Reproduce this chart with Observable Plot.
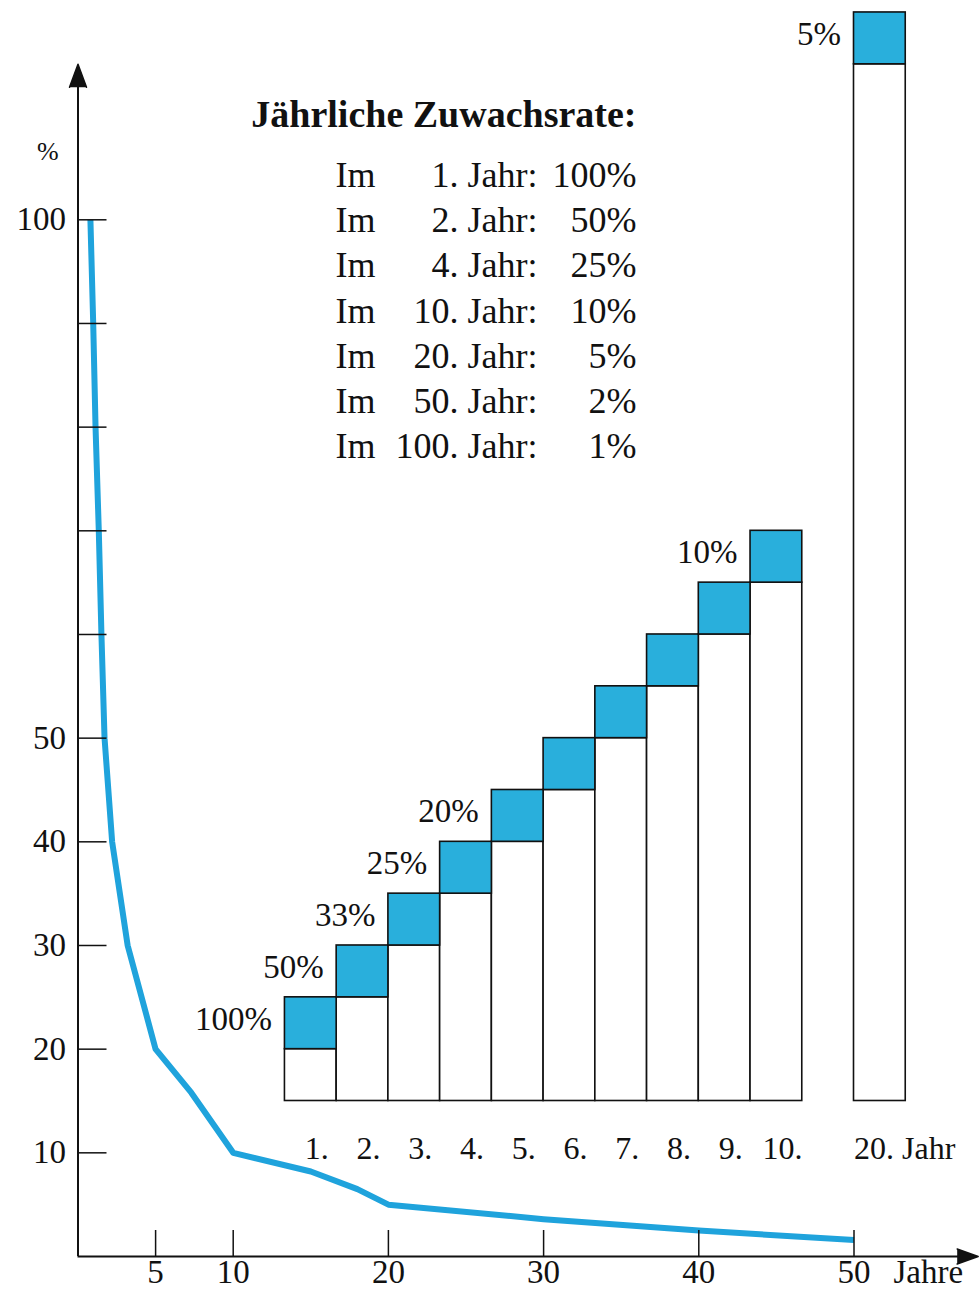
<!DOCTYPE html>
<html>
<head>
<meta charset="utf-8">
<script src="https://cdn.jsdelivr.net/npm/d3@7"></script>
<script src="https://cdn.jsdelivr.net/npm/@observablehq/plot@0.6"></script>
<style>
  html, body { margin: 0; padding: 0; background: #fff; }
  #chart svg { display: block; }
</style>
</head>
<body>
<div id="chart"></div>
<script>
// ---- Data ----
// Main curve: annual growth rate (%) against years
const curveYears = [0.8, 0.98, 1.13, 1.34, 1.51, 1.71, 2.2, 3.2, 5, 7.3, 10, 15, 18, 20, 30, 40, 50];
const curveRates = [100, 90, 80, 70, 60, 50, 40, 30, 20, 15.8, 10, 8.2, 6.5, 5, 3.6, 2.5, 1.6];

// Axis ticks
const yTickValues = [10, 20, 30, 40, 50, 60, 70, 80, 90, 100];
const yTickLabels = [10, 20, 30, 40, 50, 100];
const xTickValues = [5, 10, 20, 30, 40, 50];

// Inset staircase: capital at start of the year and its growth (in units)
const insetYears = [1, 2, 3, 4, 5, 6, 7, 8, 9, 10, 20];
const insetCapital = [1, 2, 3, 4, 5, 6, 7, 8, 9, 10, 20];
const insetGrowth = [1, 1, 1, 1, 1, 1, 1, 1, 1, 1, 1];
const insetRateLabels = ["100%", "50%", "33%", "25%", "20%", "", "", "", "", "10%", "5%"];
const insetYearLabels = ["1.", "2.", "3.", "4.", "5.", "6.", "7.", "8.", "9.", "10.", "20. Jahr"];

// Table
const tableTitle = "Jährliche Zuwachsrate:";
const tableYears = [1, 2, 4, 10, 20, 50, 100];
const tableRates = [100, 50, 25, 10, 5, 2, 1];

// ---- Layout / style constants ----
const W = 979, H = 1290;
const INK = "#111";
const BLUE_LINE = "#1fa3dc";
const BLUE_FILL = "#29afdc";
const SERIF = "'Liberation Serif', 'Times New Roman', 'DejaVu Serif', serif";
const Y_AXIS_END = 115;   // arrow tip (y units)
const X_AXIS_END = 58;    // arrow tip (x units)
const INSET_X0 = 40 / 3, INSET_W = 10 / 3;  // inset slots, in x units
const INSET_BASE = 15, INSET_UNIT = 5;      // inset base and unit, in y units

const curve = curveYears.map((year, i) => ({year, rate: curveRates[i]}));

const inset = insetYears.map((year, i) => {
  const slot = i + (year > 10 ? 1 : 0);
  const x1 = INSET_X0 + slot * INSET_W;
  const x2 = x1 + INSET_W;
  const y0 = INSET_BASE;
  const y1 = INSET_BASE + insetCapital[i] * INSET_UNIT;
  const y2 = y1 + insetGrowth[i] * INSET_UNIT;
  return {year, x1, x2, xm: (x1 + x2) / 2, y0, y1, y2, ym: (y1 + y2) / 2,
          rate: insetRateLabels[i], label: insetYearLabels[i]};
});

const colIm = tableYears.map(() => "Im").join("\n");
const colYear = tableYears.map(y => `${y}. Jahr:`).join("\n");
const colRate = tableRates.map(r => `${r}%`).join("\n");

const chart = Plot.plot({
  width: W,
  height: H,
  marginLeft: 77.5,
  marginRight: 125.5,
  marginTop: 219.3,
  marginBottom: 34,
  x: {type: "linear", domain: [0, 50]},
  y: {type: "linear", domain: [0, 100]},
  style: {background: "#fff", color: INK, fontFamily: SERIF},
  marks: [
    // main curve
    Plot.line(curve, {x: "year", y: "rate", stroke: BLUE_LINE, strokeWidth: 6,
      strokeLinejoin: "round", strokeLinecap: "butt"}),

    // inset bars
    Plot.rect(inset, {x1: "x1", x2: "x2", y1: "y0", y2: "y1", fill: "#fff", stroke: INK, strokeWidth: 1.6}),
    Plot.rect(inset, {x1: "x1", x2: "x2", y1: "y1", y2: "y2", fill: BLUE_FILL, stroke: INK, strokeWidth: 1.6}),
    Plot.text(inset.filter(d => d.rate), {x: "x1", y: "ym", text: "rate", textAnchor: "end",
      dx: -13, dy: -4, fontSize: 33, fill: INK}),
    Plot.text(inset.filter(d => d.year <= 10), {x: "xm", y: "y0", text: "label",
      dx: 6, dy: 48, fontSize: 32, fill: INK}),
    Plot.text(inset.filter(d => d.year > 10), {x: "x1", y: "y0", text: "label", textAnchor: "start",
      dy: 48, fontSize: 32, fill: INK}),

    // axes: ticks pointing inward, labels outside
    Plot.axisY(yTickValues, {anchor: "right", frameAnchor: "left", tickSize: 28, fill: "none",
      stroke: INK, strokeWidth: 1.5, label: null}),
    Plot.axisY(yTickLabels, {anchor: "left", tickSize: 0, tickPadding: 12, fontSize: 33,
      fill: INK, label: null}),
    Plot.axisX(xTickValues, {anchor: "top", frameAnchor: "bottom", tickSize: 27, fill: "none",
      stroke: INK, strokeWidth: 1.5, label: null}),
    Plot.axisX(xTickValues, {anchor: "bottom", tickSize: 0, tickPadding: 3, fontSize: 33,
      fill: INK, label: null}),

    // axis lines with arrowheads
    Plot.ruleX([0], {y1: 0, y2: Y_AXIS_END - 1, stroke: INK, strokeWidth: 2}),
    Plot.ruleY([0], {x1: 0, x2: X_AXIS_END - 1, stroke: INK, strokeWidth: 2}),
    Plot.vector([{x: 0, y: Y_AXIS_END}], {x: "x", y: "y", length: 23, r: 8.5, shape: "spike",
      anchor: "end", rotate: 0, fill: INK, stroke: INK}),
    Plot.vector([{x: X_AXIS_END, y: 0}], {x: "x", y: "y", length: 21, r: 7.5, shape: "spike",
      anchor: "end", rotate: 90, fill: INK, stroke: INK}),

    // axis titles
    Plot.text(["%"], {text: d => d, frameAnchor: "top-left", dx: -41, dy: -78, fontSize: 26, fill: INK}),
    Plot.text(["Jahre"], {text: d => d, frameAnchor: "bottom-right", dx: 39.5, dy: 3, lineAnchor: "top",
      textAnchor: "start", fontSize: 33, fill: INK}),

    // table
    Plot.text([tableTitle], {text: d => d, frameAnchor: "top-left", dx: 558.5, dy: -119.3,
      lineAnchor: "top", textAnchor: "end", fontSize: 38, fontWeight: "bold", fill: INK}),
    Plot.text([colIm], {text: d => d, frameAnchor: "top-left", dx: 257.5, dy: -64.9,
      lineAnchor: "top", textAnchor: "start", lineHeight: 1.256, fontSize: 36, fill: INK}),
    Plot.text([colYear], {text: d => d, frameAnchor: "top-left", dx: 459.5, dy: -64.9,
      lineAnchor: "top", textAnchor: "end", lineHeight: 1.256, fontSize: 36, fill: INK}),
    Plot.text([colRate], {text: d => d, frameAnchor: "top-left", dx: 558.5, dy: -64.9,
      lineAnchor: "top", textAnchor: "end", lineHeight: 1.256, fontSize: 36, fill: INK})
  ]
});

document.getElementById("chart").appendChild(chart);
</script>
</body>
</html>
